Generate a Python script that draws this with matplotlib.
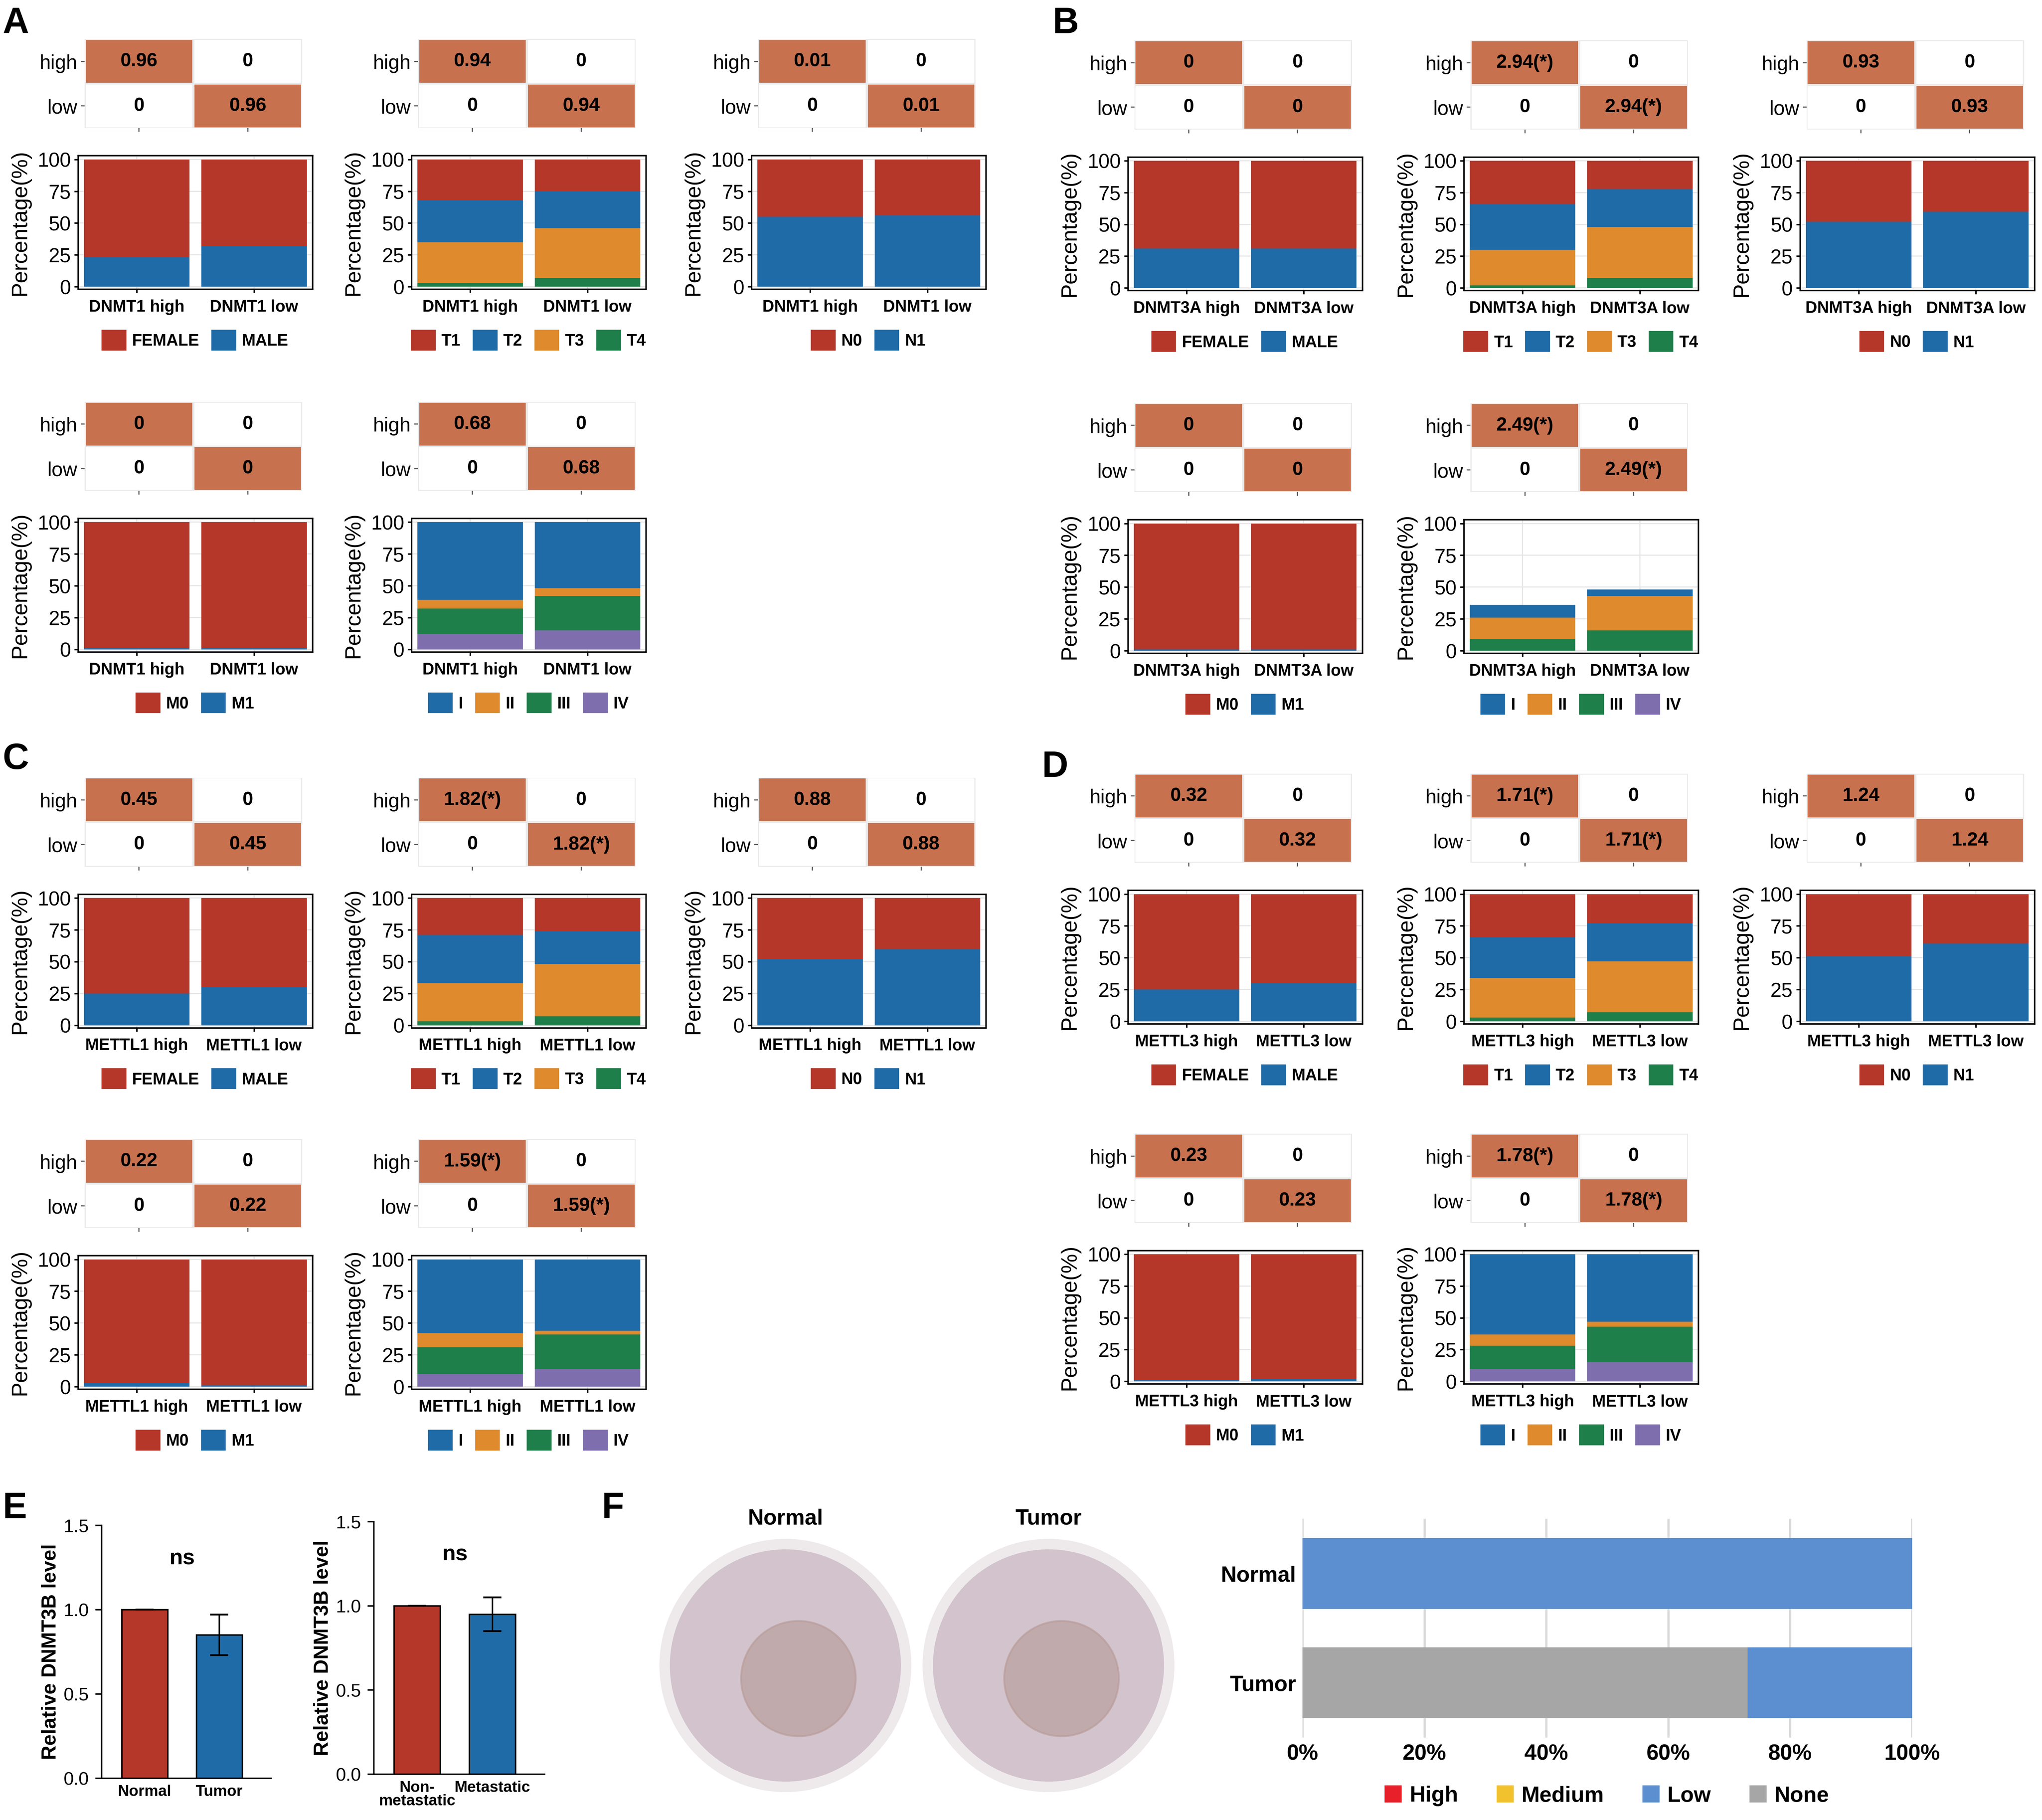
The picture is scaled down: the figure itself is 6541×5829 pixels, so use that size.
import numpy as np
import matplotlib.pyplot as plt
from matplotlib.patches import Rectangle, Patch, Circle

plt.rcParams['font.family'] = ['Liberation Sans', 'DejaVu Sans']

W, H = 1568.0, 1390.0

RED = '#B5372A'; BLUE = '#1F6BA8'; ORANGE = '#DE8A2D'; GREEN = '#1E7F4A'; PURPLE = '#7F6EAE'
HEAT = '#C8714E'

genes = ['DNMT1', 'DNMT3A', 'METTL1', 'METTL3']
heat_vals = {
    'DNMT1': ['0.96', '0.94', '0.01', '0', '0.68'],
    'DNMT3A': ['0', '2.94(*)', '0.93', '0', '2.49(*)'],
    'METTL1': ['0.45', '1.82(*)', '0.88', '0.22', '1.59(*)'],
    'METTL3': ['0.32', '1.71(*)', '1.24', '0.23', '1.78(*)'],
}

# stacked values, bottom -> top, [high, low]
gender_labels = ['FEMALE', 'MALE']
gender = {'DNMT1': [[23, 77], [32, 68]], 'DNMT3A': [[31, 69], [31, 69]],
          'METTL1': [[25, 75], [30, 70]], 'METTL3': [[25, 75], [30, 70]]}
t_labels = ['T1', 'T2', 'T3', 'T4']
tstage = {'DNMT1': [[3, 32, 33, 32], [7, 39, 29, 25]],
          'DNMT3A': [[2, 28, 36, 34], [8, 40, 30, 22]],
          'METTL1': [[3, 30, 38, 29], [7, 41, 26, 26]],
          'METTL3': [[3, 31, 32, 34], [7, 40, 30, 23]]}
n_labels = ['N0', 'N1']
nstage = {'DNMT1': [[55, 45], [56, 44]], 'DNMT3A': [[52, 48], [60, 40]],
          'METTL1': [[52, 48], [60, 40]], 'METTL3': [[51, 49], [61, 39]]}
m_labels = ['M0', 'M1']
mstage = {'DNMT1': [[1, 99], [1, 99]], 'DNMT3A': [[1, 99], [1, 99]],
          'METTL1': [[3, 97], [1, 99]], 'METTL3': [[1, 99], [2, 98]]}
s_labels = ['I', 'II', 'III', 'IV']
stage = {'DNMT1': [[12, 20, 7, 61], [15, 27, 6, 52]],
         'DNMT3A': [[0, 9, 17, 10], [0, 16, 27, 5]],
         'METTL1': [[10, 21, 11, 58], [14, 27, 3, 56]],
         'METTL3': [[10, 18, 9, 63], [15, 28, 4, 53]]}

fig = plt.figure(figsize=(7788 / 500, 6940 / 500), dpi=100)


def axes_px(x1, y1, x2, y2):
    return fig.add_axes([x1 / W, 1 - y2 / H, (x2 - x1) / W, (y2 - y1) / H])


def unit(L, T, gene, hval, vals, bot_colors, leg_labels, leg_colors):
    hx = axes_px(L + 5, T, L + 172, T + 68)
    hx.set_facecolor('#EBEBEB')
    for r in range(2):
        for c in range(2):
            col = HEAT if r == c else 'white'
            hx.add_patch(Rectangle((c + 0.01, r + 0.02), 0.98, 0.96, color=col, lw=0))
            hx.text(c + 0.5, r + 0.5, hval if r == c else '0', ha='center', va='center',
                    fontsize=10.5, color='black', fontweight='bold')
    hx.set_xlim(0, 2); hx.set_ylim(2, 0)
    hx.set_yticks([0.5, 1.5]); hx.set_yticklabels(['high', 'low'], fontsize=11)
    hx.set_xticks([0.5, 1.5]); hx.set_xticklabels([])
    hx.tick_params(length=2, color='#555555', width=0.6, pad=2)
    for s in hx.spines.values():
        s.set_visible(False)

    bx = axes_px(L, T + 89, L + 180, T + 191)
    x = np.arange(2)
    for i in range(2):
        b = 0
        for v, cl in zip(vals[i], bot_colors):
            bx.bar(i, v, 0.9, bottom=b, color=cl, zorder=3)
            b += v
    bx.set_xlim(-0.5, 1.5); bx.set_ylim(-2, 103)
    bx.set_yticks([0, 25, 50, 75, 100])
    bx.tick_params(axis='y', labelsize=11, length=2, pad=2)
    bx.set_xticks(x); bx.set_xticklabels([gene + ' high', gene + ' low'], fontsize=9, fontweight='bold')
    bx.tick_params(axis='x', length=2)
    bx.grid(color='#E5E5E5', lw=0.6, zorder=0)
    bx.set_ylabel('Percentage(%)', fontsize=12, labelpad=4)
    for s in bx.spines.values():
        s.set_linewidth(0.8)
    handles = [Patch(color=c) for c in leg_colors]
    bx.legend(handles, leg_labels, loc='upper center', bbox_to_anchor=(0.5, -0.2), ncol=len(leg_labels),
              frameon=False, handlelength=1.4, handleheight=1.4, columnspacing=0.8, handletextpad=0.4,
              prop={'size': 9, 'weight': 'bold'})


panels = [('A', 'DNMT1', 30, [60, 316, 577], 307),
          ('B', 'DNMT3A', 31, [866, 1124, 1382], 308),
          ('C', 'METTL1', 594, [60, 316, 577], 870),
          ('D', 'METTL3', 591, [866, 1124, 1382], 866)]

for letter, g, T1, lefts, T2 in panels:
    hv = heat_vals[g]
    unit(lefts[0], T1, g, hv[0], gender[g], [BLUE, RED], gender_labels, [RED, BLUE])
    unit(lefts[1], T1, g, hv[1], tstage[g], [GREEN, ORANGE, BLUE, RED], t_labels, [RED, BLUE, ORANGE, GREEN])
    unit(lefts[2], T1, g, hv[2], nstage[g], [BLUE, RED], n_labels, [RED, BLUE])
    unit(lefts[0], T2, g, hv[3], mstage[g], [BLUE, RED], m_labels, [RED, BLUE])
    unit(lefts[1], T2, g, hv[4], stage[g], [PURPLE, GREEN, ORANGE, BLUE], s_labels,
         [BLUE, ORANGE, GREEN, PURPLE])

letters = [('A', 2, 18), ('B', 808, 18), ('C', 2, 580), ('D', 800, 586), ('E', 2, 1152), ('F', 462, 1152)]
for t, x, y in letters:
    fig.text(x / W, 1 - y / H, t, fontsize=20, fontweight='bold', va='center')

# Panel E
e_cats1 = ['Normal', 'Tumor']; e_vals1 = [1.0, 0.85]; e_err1 = [0, 0.12]
e_cats2 = ['Non-\nmetastatic', 'Metastatic']; e_vals2 = [1.0, 0.95]; e_err2 = [0, 0.1]
for (x1, y1, x2, y2), cats, vals, errs in [((78, 1165, 208, 1358), e_cats1, e_vals1, e_err1),
                                           ((287, 1162, 418, 1355), e_cats2, e_vals2, e_err2)]:
    ax = axes_px(x1, y1, x2, y2)
    xs = [0, 1.3]
    ax.bar(xs, vals, 0.8, color=[RED, BLUE], edgecolor='black', lw=0.8,
           yerr=errs, error_kw=dict(capsize=5, lw=0.8))
    ax.set_xlim(-0.75, 2.2); ax.set_ylim(0, 1.5)
    ax.set_yticks([0, 0.5, 1.0, 1.5])
    ax.set_xticks(xs); ax.set_xticklabels(cats, fontsize=8.5, fontweight='bold', linespacing=0.9)
    ax.tick_params(axis='x', length=0)
    ax.tick_params(axis='y', labelsize=10)
    ax.spines['top'].set_visible(False); ax.spines['right'].set_visible(False)
    ax.set_ylabel('Relative DNMT3B level', fontsize=11, fontweight='bold', labelpad=2)
    ax.text(0.65, 1.27, 'ns', ha='center', fontsize=12, fontweight='bold')

# Panel F tissue cores
for cx, name in [(603, 'Normal'), (805, 'Tumor')]:
    cax = axes_px(cx - 100, 1172, cx + 100, 1372)
    cax.add_patch(Circle((0.5, 0.5), 0.48, color='#EEEAEC'))
    cax.add_patch(Circle((0.5, 0.5), 0.44, color='#D2C3CC'))
    cax.add_patch(Circle((0.55, 0.45), 0.22, color='#B79A96', alpha=0.6))
    cax.set_xlim(0, 1); cax.set_ylim(0, 1); cax.axis('off')
    fig.text(cx / W, 1 - 1160 / H, name, ha='center', va='center', fontsize=12, fontweight='bold')

f_cats = ['Normal', 'Tumor']
f_levels = ['High', 'Medium', 'Low', 'None']
f_colors = ['#E8202A', '#F2C12E', '#5B8FCF', '#A6A6A6']
f_none = [0, 73]
f_low = [100, 27]
fx = axes_px(1000, 1160, 1468, 1327)
fx.barh([1, 0], f_none, 0.65, color=f_colors[3], zorder=3)
fx.barh([1, 0], f_low, 0.65, left=f_none, color=f_colors[2], zorder=3)
fx.set_xlim(0, 100); fx.set_ylim(-0.5, 1.5)
fx.set_xticks([0, 20, 40, 60, 80, 100])
fx.set_xticklabels(['0%', '20%', '40%', '60%', '80%', '100%'], fontsize=12, fontweight='bold')
fx.set_yticks([1, 0]); fx.set_yticklabels(f_cats, fontsize=12, fontweight='bold')
fx.tick_params(length=0)
fx.grid(axis='x', color='#D9D9D9', lw=1.2, zorder=0)
for s in fx.spines.values():
    s.set_visible(False)
fx.legend([Patch(color=c) for c in f_colors], f_levels, loc='upper center', bbox_to_anchor=(0.5, -0.13),
          ncol=4, frameon=False, prop={'size': 12, 'weight': 'bold'}, handlelength=0.7, handleheight=0.7,
          columnspacing=1.8, handletextpad=0.4)

fig.savefig('out.png', dpi=420)
